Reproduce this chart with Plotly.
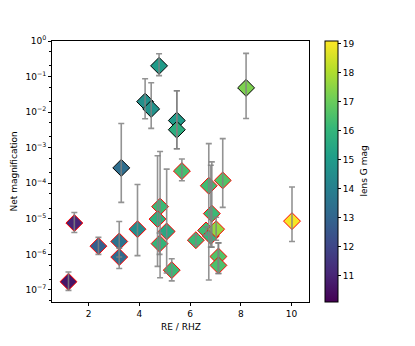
import plotly.graph_objects as go

# Data
re_rhz = [1.21, 1.44, 2.39, 3.21, 3.21, 3.29, 3.93, 4.23, 4.47, 4.78,
          4.82, 4.72, 4.80, 5.08, 5.28, 5.48, 5.48, 5.68, 6.23, 6.63,
          6.74, 6.82, 6.86, 7.03, 7.12, 7.12, 7.29, 8.21, 10.02]
net_mag = [1.7e-7, 7.6e-6, 1.7e-6, 2.3e-6, 8.4e-7, 2.7e-4, 5.1e-6, 1.97e-2, 1.23e-2, 2.0e-1,
           2.2e-5, 9.8e-6, 2.0e-6, 4.4e-6, 3.6e-7, 5.8e-3, 3.2e-3, 2.2e-4, 2.5e-6, 4.7e-6,
           8.5e-5, 3.3e-6, 1.4e-5, 5.1e-6, 8.7e-7, 4.9e-7, 1.2e-4, 4.8e-2, 8.6e-6]
mag_upper = [3.2e-7, 1.5e-5, 3.0e-6, 8.4e-6, 1.5e-6, 4.8e-3, 9.2e-5, 8.7e-2, 6.7e-2, 4.4e-1,
             7.8e-4, 5.9e-4, 4.0e-6, 2.5e-4, 7.5e-7, 4.0e-2, 4.0e-2, 4.8e-4, 3.5e-6, 6.0e-6,
             1.3e-3, 3.2e-4, 4.0e-4, 1.1e-5, 2.1e-6, 2.1e-6, 1.8e-3, 4.5e-1, 7.8e-5]
mag_lower = [9.7e-8, 4.1e-6, 1.0e-6, 8.4e-7, 4.0e-7, 2.9e-5, 9.2e-7, 6.5e-3, 3.5e-3, 1.06e-1,
             2.2e-7, 4.6e-7, 1.0e-6, 3.0e-7, 1.8e-7, 9.3e-4, 9.3e-4, 1.17e-4, 1.8e-6, 3.5e-6,
             1.9e-7, 1.6e-6, 1.6e-6, 2.5e-6, 2.9e-7, 2.9e-7, 2.1e-5, 6.6e-3, 2.3e-6]
lens_g_mag = [10.6, 11.0, 12.8, 13.5, 13.2, 13.3, 14.5, 14.6, 14.7, 15.0,
              16.2, 15.8, 16.0, 15.5, 16.2, 15.0, 15.7, 16.4, 16.2, 16.3,
              16.3, 16.0, 16.2, 17.6, 16.6, 16.5, 16.6, 17.3, 19.0]
edge_colors = ["red", "red", "red", "red", "red", "black", "red", "black", "black", "black",
               "red", "red", "red", "red", "red", "black", "black", "red", "red", "red",
               "red", "red", "red", "red", "red", "red", "red", "black", "red"]

cmin, cmax = 10.08, 19.1
err_plus = [u - v for u, v in zip(mag_upper, net_mag)]
err_minus = [v - l for v, l in zip(net_mag, mag_lower)]

OFF = 8  # page body margin
L, R, T, B = 52 - OFF, 309 - OFF, 41 - OFF, 302 - OFF
PW, PH = R - L, B - T

fig = go.Figure()
fig.add_trace(go.Scatter(
    x=re_rhz, y=net_mag, mode="markers",
    marker=dict(symbol="diamond", size=13, color=lens_g_mag, colorscale="Viridis",
                cmin=cmin, cmax=cmax,
                line=dict(color=edge_colors, width=1),
                colorbar=dict(
                    x=(325 - OFF - L) / PW, xanchor="left", xpad=0,
                    y=0.5, yanchor="middle", ypad=0,
                    len=1, lenmode="fraction", thickness=13,
                    outlinecolor="black", outlinewidth=1,
                    ticks="outside", ticklen=3, tickcolor="black",
                    tickvals=[11, 12, 13, 14, 15, 16, 17, 18, 19],
                    tickfont=dict(size=9, color="black"))),
    showlegend=False, hoverinfo="skip"))
fig.add_trace(go.Scatter(
    x=re_rhz, y=net_mag, mode="markers",
    marker=dict(size=1, opacity=0),
    error_y=dict(type="data", symmetric=False, array=err_plus, arrayminus=err_minus,
                 color="rgba(128,128,128,0.85)", thickness=1.6, width=3),
    showlegend=False, hoverinfo="skip"))

ytick_vals = [1e0, 1e-1, 1e-2, 1e-3, 1e-4, 1e-5, 1e-6, 1e-7]
ytick_text = ["10<sup>0</sup>", "10<sup>−1</sup>", "10<sup>−2</sup>", "10<sup>−3</sup>",
              "10<sup>−4</sup>", "10<sup>−5</sup>", "10<sup>−6</sup>", "10<sup>−7</sup>"]

fig.update_layout(
    width=415, height=346,
    margin=dict(l=L, r=415 - R, t=T, b=346 - B, autoexpand=False),
    plot_bgcolor="white", paper_bgcolor="white",
    font=dict(family="DejaVu Sans", size=9, color="black"),
    xaxis=dict(range=[0.56, 10.69], tickvals=[2, 4, 6, 8, 10], automargin=False,
               showline=True, linecolor="black", linewidth=1, mirror=True,
               ticks="outside", ticklen=3, tickcolor="black",
               showgrid=False, zeroline=False),
    yaxis=dict(type="log", range=[-7.34, 0], tickvals=ytick_vals, ticktext=ytick_text,
               automargin=False,
               showline=True, linecolor="black", linewidth=1, mirror=True,
               ticks="outside", ticklen=3, tickcolor="black",
               minor=dict(ticks="outside", ticklen=2, tickcolor="black", showgrid=False),
               showgrid=False, zeroline=False),
    annotations=[
        dict(text="lens G mag", textangle=-90, xref="paper", yref="paper",
             x=(363 - OFF - L) / PW, y=0.5, xanchor="center", yanchor="middle",
             showarrow=False, font=dict(size=9, color="black")),
        dict(text="Net magnification", textangle=-90, xref="paper", yref="paper",
             x=(13 - OFF - L) / PW, y=0.5, xanchor="center", yanchor="middle",
             showarrow=False, font=dict(size=9, color="black")),
        dict(text="RE / RHZ", xref="paper", yref="paper",
             x=0.5, y=(B - (327 - OFF)) / PH, xanchor="center", yanchor="middle",
             showarrow=False, font=dict(size=9, color="black")),
    ],
)

fig.write_html("out.html")
